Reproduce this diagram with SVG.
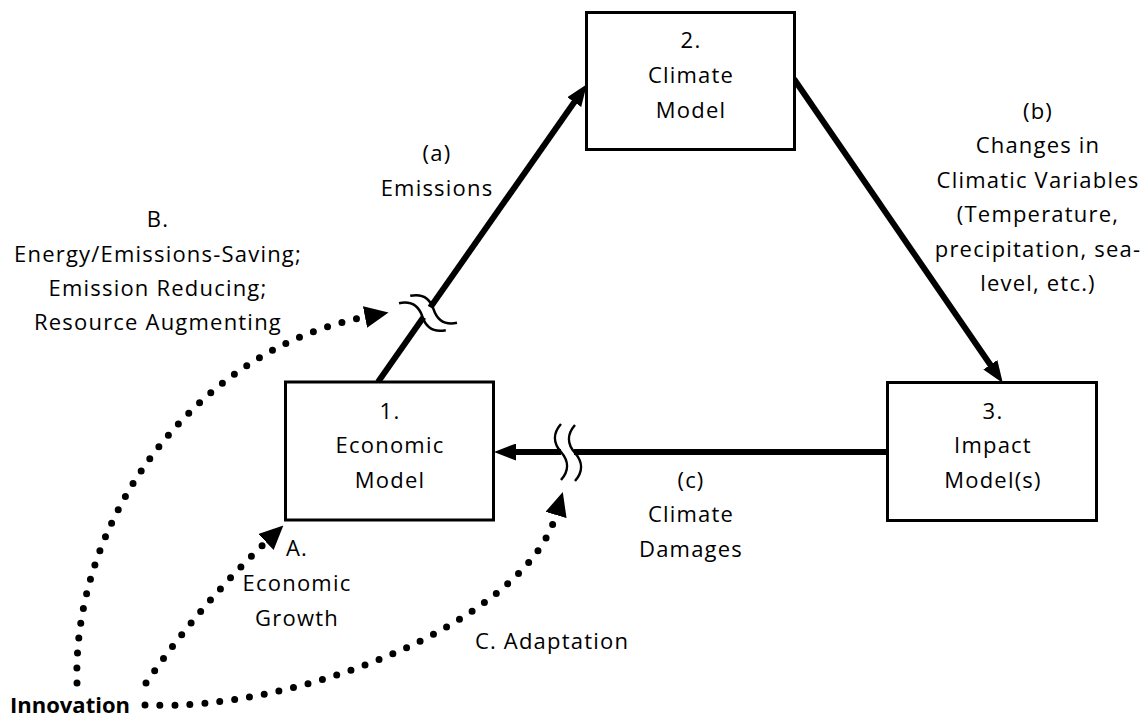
<svg xmlns="http://www.w3.org/2000/svg" width="1143" height="719" viewBox="0 0 1143 719">
<style>
  .box { fill: #fff; stroke: #000; stroke-width: 3; }
  .t { font-family: "Open Sans", "Liberation Sans", sans-serif; font-size: 22px; letter-spacing: 1.2px; fill: #000; text-anchor: middle; }
  .tb { font-family: "Open Sans", "Liberation Sans", sans-serif; font-size: 22px; font-weight: bold; fill: #000; }
  .main { fill: none; stroke: #000; stroke-width: 6; }
  .dot { fill: none; stroke: #000; stroke-width: 7; stroke-linecap: round; stroke-dasharray: 0 15; }
  .wave { fill: none; stroke: #000; stroke-width: 2.5; }
</style>
<defs>
  <marker id="ah" markerUnits="userSpaceOnUse" viewBox="0 0 22 17" markerWidth="22" markerHeight="17" refX="10" refY="8.5" orient="auto">
    <path d="M0,0 L22,8.5 L0,17 z" fill="#000"/>
  </marker>
  <marker id="dh" markerUnits="userSpaceOnUse" viewBox="0 0 24 22" markerWidth="24" markerHeight="22" refX="0" refY="11" orient="auto">
    <path d="M0,0 L24,11 L0,22 z" fill="#000"/>
  </marker>
  <path id="wv" d="M0,-28 C-8,-19 -8,-9 0,0 S8,19 0,28"/>
</defs>
<rect width="1143" height="719" fill="#fff"/>

<g id="connectors">
  <!-- (a) Emissions -->
  <line class="main" x1="378" y1="382" x2="580" y2="94" marker-end="url(#ah)"/>
  <!-- (b) Changes in climatic variables -->
  <line class="main" x1="794" y1="79" x2="996" y2="373" marker-end="url(#ah)"/>
  <!-- (c) Climate damages -->
  <line class="main" x1="887" y1="452" x2="506" y2="452" marker-end="url(#ah)"/>
  <!-- break on (a) -->
  <g transform="translate(428,313) rotate(30)">
    <rect x="-9" y="-6" width="18" height="12" fill="#fff"/>
    <path class="wave" d="M-27,0 C-18,-8 -9,-8 0,0 S18,8 27,0" transform="translate(3,-6)"/>
    <path class="wave" d="M-27,0 C-18,-8 -9,-8 0,0 S18,8 27,0" transform="translate(-3,6)"/>
  </g>
  <!-- break on (c) -->
  <rect x="561" y="446" width="13" height="12" fill="#fff"/>
  <use href="#wv" class="wave" x="561" y="452"/>
  <use href="#wv" class="wave" x="575" y="453"/>
  <!-- Innovation dotted arrows -->
  <path class="dot" d="M77,683 C72,520 195,350 365,317" marker-end="url(#dh)"/>
  <path class="dot" d="M146,683 Q200,605 266,542" marker-end="url(#dh)"/>
  <path class="dot" d="M145,705 C300,712 525,620 556,515" marker-end="url(#dh)"/>
</g>

<g id="node-economic">
  <rect class="box" x="285.5" y="382" width="208" height="138"/>
  <text class="t" x="390" y="419">1.</text>
  <text class="t" x="390" y="453">Economic</text>
  <text class="t" x="390" y="488">Model</text>
</g>
<g id="node-climate">
  <rect class="box" x="586.5" y="12.5" width="208" height="137"/>
  <text class="t" x="691" y="48">2.</text>
  <text class="t" x="691" y="83">Climate</text>
  <text class="t" x="691" y="118">Model</text>
</g>
<g id="node-impact">
  <rect class="box" x="887.5" y="382.5" width="209" height="138"/>
  <text class="t" x="993" y="419">3.</text>
  <text class="t" x="993" y="453">Impact</text>
  <text class="t" x="993" y="488">Model(s)</text>
</g>
<g id="node-innovation">
  <text class="tb" x="10" y="713">Innovation</text>
</g>

<g id="labels">
  <text class="t" x="437" y="161">(a)</text>
  <text class="t" x="437" y="196">Emissions</text>
  <text class="t" x="1038" y="119">(b)</text>
  <text class="t" x="1038" y="153">Changes in</text>
  <text class="t" x="1038" y="188">Climatic Variables</text>
  <text class="t" x="1038" y="222">(Temperature,</text>
  <text class="t" x="1038" y="257">precipitation, sea-</text>
  <text class="t" x="1038" y="291">level, etc.)</text>
  <text class="t" x="691" y="488">(c)</text>
  <text class="t" x="691" y="522">Climate</text>
  <text class="t" x="691" y="557">Damages</text>
  <text class="t" x="158" y="227">B.</text>
  <text class="t" x="158" y="262">Energy/Emissions-Saving;</text>
  <text class="t" x="158" y="296">Emission Reducing;</text>
  <text class="t" x="158" y="330">Resource Augmenting</text>
  <text class="t" x="297" y="556">A.</text>
  <text class="t" x="297" y="591">Economic</text>
  <text class="t" x="297" y="626">Growth</text>
  <text class="t" x="552" y="649">C. Adaptation</text>
</g>
</svg>
